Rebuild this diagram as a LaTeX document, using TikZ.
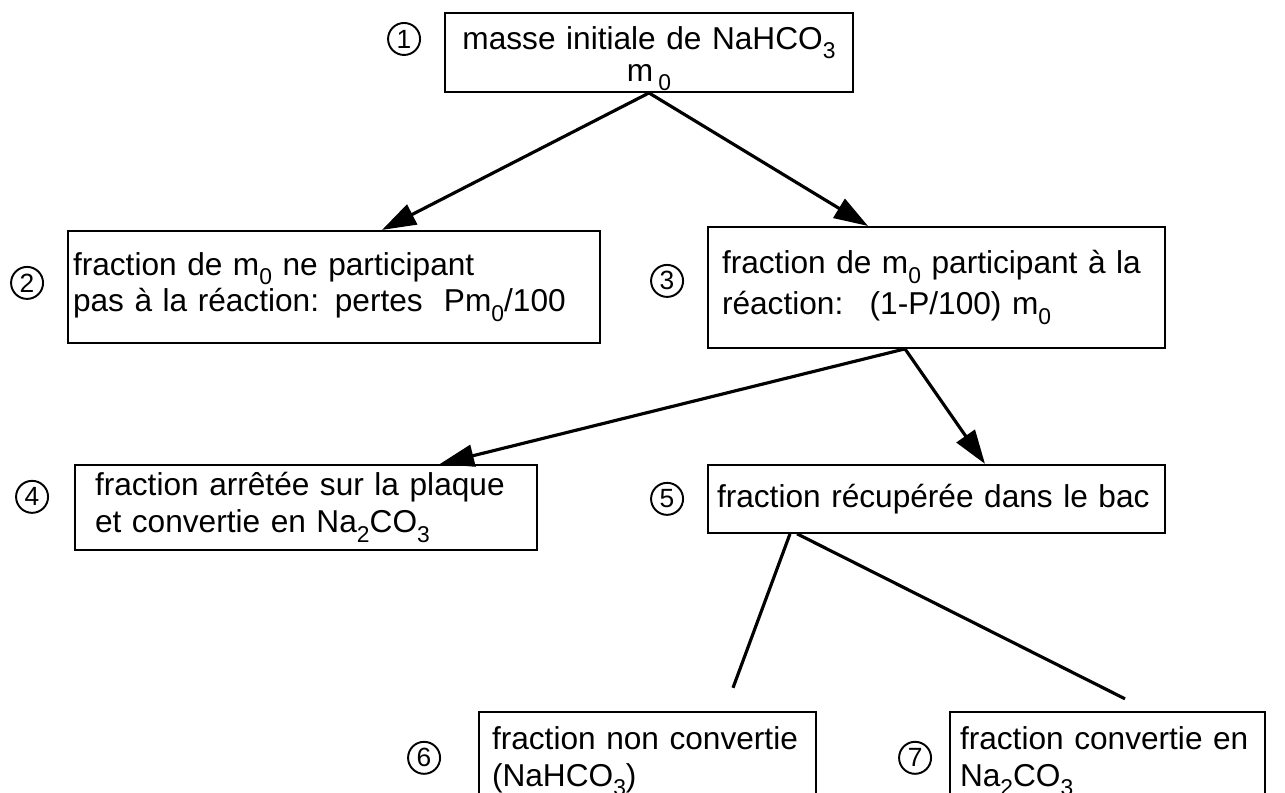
\documentclass[tikz,border=0pt]{standalone}
\usepackage{fontspec}
\setmainfont{Liberation Sans}
\usetikzlibrary{arrows.meta, positioning}
\newcommand{\chsub}[1]{\raisebox{-0.3em}{\fontsize{13}{13}\selectfont #1}}
\tikzset{
    box/.style={draw=black, line width=1.1pt, align=left, inner ysep=0pt, font=\fontsize{18}{21}\selectfont},
    numcirc/.style={draw=black, circle, line width=1.1pt, minimum size=0.64cm, inner sep=0pt, font=\fontsize{15}{15}\selectfont},
    arrow/.style={-{Triangle[length=0.68cm, width=0.44cm]}, line width=1.8pt},
    branch/.style={line width=1.8pt}
}

\begin{document}
\begin{tikzpicture}[node distance=0.46cm]
    \useasboundingbox (0,0) rectangle (25.7,-15.84);

    % Top
    \node [box, align=center, text width=7.96cm, inner xsep=0.1cm, minimum height=1.58cm, font=\fontsize{18}{18}\selectfont, anchor=north] (b1) at (12.98,-0.24) {\rule{0pt}{20pt}masse initiale de NaHCO\chsub{3}\\m\,\chsub{0}};

    % Row 1
    \node [box, text width=10.44cm, inner xsep=0.1cm, minimum height=2.24cm, below=2.74cm of b1, xshift=-6.3cm] (b2) {fraction de m\chsub{0} ne participant\\pas à la réaction: pertes~ Pm\chsub{0}/100};
    \node [box, text width=8.58cm, inner xsep=0.28cm, minimum height=2.42cm, font=\fontsize{18}{23.5}\selectfont, below=2.66cm of b1, xshift=5.75cm] (b3) {fraction de m\chsub{0} participant à la\\réaction:~ (1-P/100) m\chsub{0}};

    % Row 2
    \node [box, text width=8.44cm, inner xsep=0.4cm, minimum height=1.7cm, below=2.4cm of b2, xshift=-0.56cm] (b4) {fraction arrêtée sur la plaque\\et convertie en Na\chsub{2}CO\chsub{3}};
    \node [box, text width=8.78cm, inner xsep=0.18cm, minimum height=1.36cm, below=2.3cm of b3] (b5) {fraction récupérée dans le bac};

    % Row 3 (cut by the page bottom)
    \node [box, text width=6.22cm, inner xsep=0.26cm, minimum height=1.98cm, below=3.54cm of b5, xshift=-5.78cm] (b6) {fraction non convertie\\(NaHCO\chsub{3})};
    \node [box, text width=5.9cm, inner xsep=0.2cm, minimum height=1.98cm, below=3.54cm of b5, xshift=3.42cm] (b7) {fraction convertie en\\Na\chsub{2}CO\chsub{3}};

    % Numbers
    \node [numcirc, left=of b1, yshift=0.27cm] (c1) {1};
    \node [numcirc, left=of b2, yshift=0.08cm] (c2) {2};
    \node [numcirc, left=of b3, yshift=0.13cm] (c3) {3};
    \node [numcirc, left=0.5cm of b4, yshift=0.21cm] (c4) {4};
    \node [numcirc, left=of b5] (c5) {5};
    \node [numcirc, left=0.74cm of b6.north west, yshift=-0.94cm] (c6) {6};
    \node [numcirc, left=0.34cm of b7.north west, yshift=-0.94cm] (c7) {7};

    \coordinate [above right=0.46cm and 1.71cm of b6.north] (e6);
    \coordinate [above right=0.24cm and 0.35cm of b7.north] (e7);

    \draw [arrow] (b1.south) -- ([xshift=0.96cm]b2.north);
    \draw [arrow] (b1.south) -- ([xshift=-1.37cm]b3.north);
    \draw [arrow] ([xshift=-0.63cm]b3.south) -- ([xshift=2.68cm]b4.north);
    \draw [arrow] ([xshift=-0.63cm]b3.south) -- ([xshift=0.97cm]b5.north);
    \draw [branch] ([xshift=-2.93cm]b5.south) -- (e6);
    \draw [branch] ([xshift=-2.79cm]b5.south) -- (e7);
\end{tikzpicture}
\end{document}
